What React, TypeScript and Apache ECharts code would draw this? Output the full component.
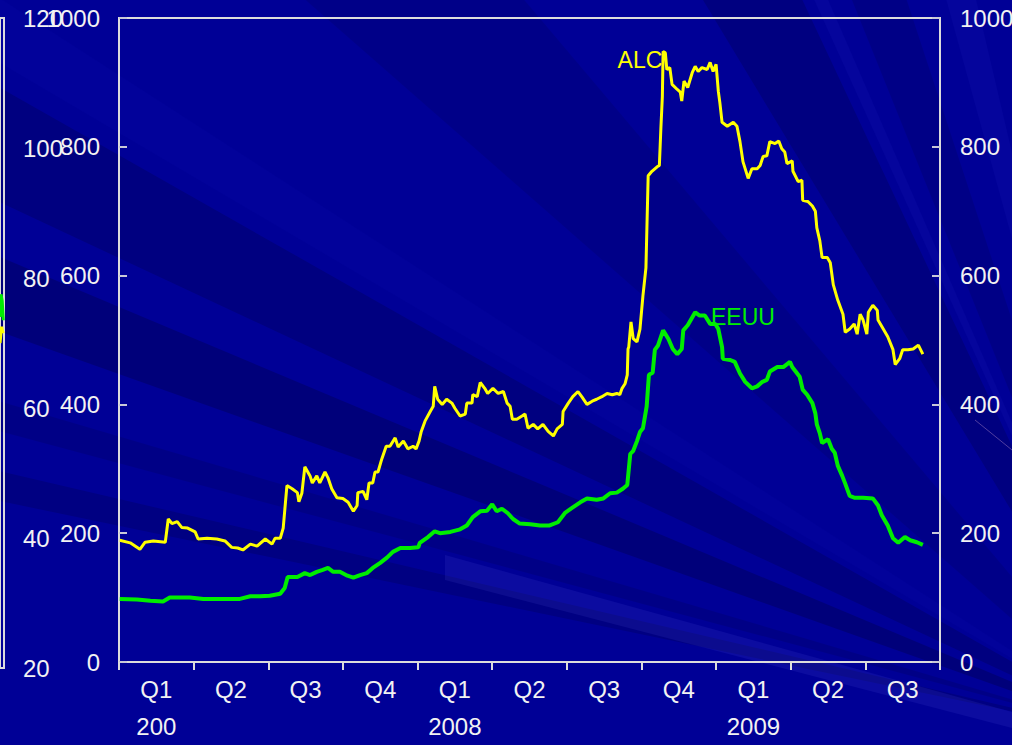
import React, { useEffect, useRef } from "react";
import * as echarts from "echarts";

const quarterLabels = ["Q1", "Q2", "Q3", "Q4", "Q1", "Q2", "Q3", "Q4", "Q1", "Q2", "Q3"];
const yearLabels = ["200", "", "", "", "2008", "", "", "", "2009", "", ""];

// [quarter index from Q1 2007, value]
const alcPoints: number[][] = [
  [0.01, 189], [0.15, 185], [0.28, 175], [0.35, 186], [0.46, 188], [0.62, 186], [0.66, 222], [0.71, 215],
  [0.78, 218], [0.84, 209], [0.92, 208], [1.02, 202], [1.06, 191], [1.18, 192], [1.31, 191], [1.42, 188],
  [1.51, 178], [1.59, 177], [1.66, 174], [1.76, 183], [1.85, 180], [1.96, 191], [2.05, 183], [2.09, 192],
  [2.16, 192], [2.2, 208], [2.25, 274], [2.32, 269], [2.39, 263], [2.41, 249], [2.45, 262], [2.49, 303],
  [2.56, 289], [2.59, 278], [2.65, 289], [2.69, 278], [2.76, 295], [2.8, 286], [2.85, 269], [2.92, 255],
  [3.0, 254], [3.07, 248], [3.14, 234], [3.19, 243], [3.2, 263], [3.27, 265], [3.32, 252], [3.35, 278],
  [3.4, 278], [3.43, 295], [3.47, 295], [3.52, 315], [3.58, 335], [3.63, 335], [3.7, 348], [3.74, 334],
  [3.81, 343], [3.87, 331], [3.94, 335], [3.98, 331], [4.02, 343], [4.05, 358], [4.1, 374], [4.17, 389],
  [4.21, 397], [4.23, 428], [4.27, 408], [4.33, 400], [4.39, 408], [4.46, 402], [4.5, 394], [4.57, 382],
  [4.64, 385], [4.66, 402], [4.73, 402], [4.74, 415], [4.8, 412], [4.84, 434], [4.9, 425], [4.94, 417],
  [5.01, 425], [5.08, 417], [5.15, 420], [5.2, 402], [5.24, 397], [5.27, 377], [5.33, 377], [5.4, 382],
  [5.44, 385], [5.48, 363], [5.55, 369], [5.61, 362], [5.68, 369], [5.75, 358], [5.82, 351], [5.87, 362],
  [5.94, 369], [5.95, 389], [6.02, 402], [6.08, 412], [6.15, 420], [6.2, 412], [6.27, 400], [6.34, 405],
  [6.4, 408], [6.47, 412], [6.54, 417], [6.61, 415], [6.67, 417], [6.71, 415], [6.74, 425], [6.78, 432],
  [6.81, 446], [6.82, 486], [6.83, 489], [6.86, 528], [6.89, 502], [6.94, 497], [6.98, 517], [7.02, 569],
  [7.06, 612], [7.09, 755], [7.14, 762], [7.21, 769], [7.24, 771], [7.26, 828], [7.28, 878], [7.29, 948],
  [7.32, 946], [7.34, 920], [7.38, 923], [7.41, 897], [7.48, 889], [7.52, 885], [7.54, 871], [7.57, 902],
  [7.62, 892], [7.68, 915], [7.72, 925], [7.76, 917], [7.81, 923], [7.88, 920], [7.92, 931], [7.96, 917],
  [8.0, 928], [8.03, 886], [8.05, 869], [8.08, 838], [8.15, 832], [8.23, 838], [8.28, 832], [8.32, 808],
  [8.36, 777], [8.43, 751], [8.48, 766], [8.55, 766], [8.59, 771], [8.63, 785], [8.68, 786], [8.72, 808],
  [8.79, 805], [8.84, 809], [8.88, 797], [8.92, 792], [8.95, 774], [9.02, 778], [9.03, 762], [9.1, 746],
  [9.15, 748], [9.16, 717], [9.23, 715], [9.29, 708], [9.33, 700], [9.35, 674], [9.39, 654], [9.42, 628],
  [9.49, 628], [9.53, 620], [9.57, 586], [9.63, 562], [9.7, 540], [9.73, 512], [9.79, 517], [9.85, 525],
  [9.89, 509], [9.93, 540], [9.97, 531], [10.02, 509], [10.04, 543], [10.1, 554], [10.16, 546], [10.17, 531],
  [10.24, 517], [10.3, 505], [10.37, 485], [10.4, 462], [10.46, 471], [10.5, 485], [10.57, 485], [10.64, 486],
  [10.71, 492], [10.77, 478],
];

const eeuuPoints: number[][] = [
  [0.01, 98], [0.24, 97], [0.42, 95], [0.59, 94], [0.68, 100], [0.82, 100], [0.95, 100], [1.13, 98],
  [1.31, 98], [1.49, 98], [1.62, 98], [1.76, 102], [1.89, 102], [2.02, 103], [2.16, 106], [2.22, 115],
  [2.26, 132], [2.39, 132], [2.49, 138], [2.56, 135], [2.65, 140], [2.73, 143], [2.8, 146], [2.87, 140],
  [2.96, 140], [3.06, 134], [3.14, 131], [3.23, 135], [3.32, 138], [3.4, 146], [3.5, 154], [3.59, 162],
  [3.67, 171], [3.77, 177], [3.9, 177], [4.01, 178], [4.03, 185], [4.14, 194], [4.23, 203], [4.3, 200],
  [4.44, 202], [4.57, 206], [4.66, 212], [4.74, 225], [4.84, 234], [4.93, 235], [5.0, 245], [5.06, 234],
  [5.13, 238], [5.21, 231], [5.28, 222], [5.37, 215], [5.51, 214], [5.64, 212], [5.77, 212], [5.88, 217],
  [5.98, 232], [6.08, 240], [6.18, 248], [6.27, 254], [6.4, 252], [6.49, 254], [6.58, 262], [6.67, 263],
  [6.75, 269], [6.81, 275], [6.85, 323], [6.89, 328], [6.94, 343], [6.98, 357], [7.02, 363], [7.07, 397],
  [7.1, 446], [7.15, 449], [7.18, 485], [7.22, 491], [7.29, 515], [7.36, 502], [7.42, 486], [7.48, 478],
  [7.54, 486], [7.56, 515], [7.62, 523], [7.72, 543], [7.78, 538], [7.85, 538], [7.92, 525], [7.99, 525],
  [8.03, 517], [8.08, 489], [8.09, 471], [8.19, 469], [8.25, 466], [8.32, 448], [8.39, 435], [8.48, 425],
  [8.55, 428], [8.62, 435], [8.68, 438], [8.72, 451], [8.82, 458], [8.9, 458], [8.99, 466], [9.02, 458],
  [9.12, 443], [9.16, 423], [9.22, 415], [9.29, 402], [9.33, 386], [9.35, 369], [9.39, 355], [9.42, 340],
  [9.5, 346], [9.55, 331], [9.59, 325], [9.63, 305], [9.69, 289], [9.73, 277], [9.79, 258], [9.86, 255],
  [9.97, 255], [10.1, 254], [10.17, 243], [10.22, 228], [10.3, 212], [10.37, 192], [10.44, 185], [10.53, 194],
  [10.6, 189], [10.69, 186], [10.77, 182],
];

// tail of the neighbouring (cut-off) chart at the far left, on its 20-120 scale
const prevEeuuPoints: number[][] = [[0, 74], [1, 77.5], [2.2, 76.5], [3.3, 73.5]];
const prevAlcPoints: number[][] = [[0, 70], [1.6, 72.5], [3.2, 71.5]];

const alcLabel = { name: "ALC", coord: [6.98, 935] };
const eeuuLabel = { name: "EEUU", coord: [8.36, 535] };

const FONT = "'Liberation Sans', Arial, sans-serif";
const TXT = "#f2f2f2";
const AXIS = "#dcdcdc";

function rays() {
  const F = [1150, 740];
  const els: any[] = [];
  const leftBand = (y0: number, y1: number, fill: string) =>
    els.push({ type: "polygon", z: -9, silent: true, shape: { points: [F, [-5, y0], [-5, y1]] }, style: { fill } });
  const topBand = (x0: number, x1: number, fill: string) =>
    els.push({ type: "polygon", z: -9, silent: true, shape: { points: [F, [x0, -5], [x1, -5]] }, style: { fill } });
  leftBand(85, 200, "rgba(0,0,40,0.2)");
  leftBand(255, 330, "rgba(0,0,40,0.25)");
  leftBand(400, 430, "rgba(0,0,40,0.14)");
  leftBand(470, 500, "rgba(0,0,40,0.18)");
  leftBand(-5, 60, "rgba(40,40,220,0.06)");
  topBand(300, 520, "rgba(0,0,40,0.12)");
  topBand(700, 800, "rgba(0,0,40,0.2)");
  topBand(850, 905, "rgba(0,0,40,0.14)");
  topBand(812, 826, "rgba(60,60,230,0.08)");
  topBand(945, 975, "rgba(60,60,230,0.08)");
  els.push({
    type: "polygon", z: -9, silent: true,
    shape: { points: [[445, 555], [1012, 712], [1012, 728], [445, 580]] },
    style: { fill: "rgba(120,120,255,0.1)" },
  });
  els.push({
    type: "line", z: -9, silent: true,
    shape: { x1: 975, y1: 420, x2: 1012, y2: 450 },
    style: { stroke: "rgba(180,140,200,0.45)", lineWidth: 1 },
  });
  // page beyond the slide's right edge
  els.push({ type: "rect", z: -8, silent: true, shape: { x: 1012, y: 0, width: 20, height: 745 }, style: { fill: "#ffffff" } });
  return els;
}

export default function App() {
  const ref = useRef<HTMLDivElement>(null);
  useEffect(() => {
    if (!ref.current) return;
    const chart = echarts.init(ref.current, null, { renderer: "svg" });
    const labelStyle = { color: TXT, fontSize: 24, fontFamily: FONT };
    const plain = (v: number) => String(v);
    chart.setOption({
      animation: false,
      backgroundColor: "#ffffff",
      graphic: [
        { type: "rect", z: -10, silent: true, shape: { x: 0, y: 0, width: 1012, height: 745 }, style: { fill: "#000096" } },
        ...rays(),
      ],
      grid: [
        { left: 119, right: 86, top: 18, bottom: 77, show: true, borderColor: AXIS, borderWidth: 2, backgroundColor: "transparent" },
        { left: 0, right: 1022, top: 18, bottom: 77, show: true, borderColor: AXIS, borderWidth: 2, backgroundColor: "transparent" },
      ],
      xAxis: [
        {
          type: "category",
          gridIndex: 0,
          data: quarterLabels.map((q, i) => (yearLabels[i] ? q + "\n" + yearLabels[i] : q)),
          boundaryGap: true,
          axisLine: { lineStyle: { color: AXIS, width: 2 } },
          axisTick: { show: true, interval: 0, length: 8, lineStyle: { color: AXIS, width: 2 } },
          axisLabel: { ...labelStyle, interval: 0, margin: 9, lineHeight: 37 },
          splitLine: { show: false },
        },
        { type: "value", gridIndex: 0, min: 0, max: 11, show: false },
        { type: "value", gridIndex: 1, min: 0, max: 4, show: false },
      ],
      yAxis: [
        {
          type: "value", gridIndex: 0, position: "left", min: 0, max: 1000, interval: 200,
          axisLine: { show: true, lineStyle: { color: AXIS, width: 2 } },
          axisTick: { show: true, inside: true, length: 8, lineStyle: { color: "#c8c8d8", width: 2 } },
          axisLabel: { ...labelStyle, margin: 19, formatter: plain },
          splitLine: { show: false },
        },
        {
          type: "value", gridIndex: 0, position: "right", min: 0, max: 1000, interval: 200,
          axisLine: { show: true, lineStyle: { color: AXIS, width: 2 } },
          axisTick: { show: true, inside: true, length: 8, lineStyle: { color: "#c8c8d8", width: 2 } },
          axisLabel: { ...labelStyle, margin: 20, formatter: plain },
          splitLine: { show: false },
        },
        {
          type: "value", gridIndex: 1, position: "right", min: 20, max: 120, interval: 20,
          axisLine: { show: true, lineStyle: { color: AXIS, width: 2 } },
          axisTick: { show: true, inside: true, length: 8, lineStyle: { color: "#c8c8d8", width: 2 } },
          axisLabel: { ...labelStyle, margin: 19, formatter: plain },
          splitLine: { show: false },
        },
      ],
      series: [
        {
          name: "EEUU", type: "line", xAxisIndex: 1, yAxisIndex: 0, data: eeuuPoints, showSymbol: false,
          lineStyle: { color: "#00ee00", width: 4 }, itemStyle: { color: "#00ee00" }, z: 3,
          markPoint: {
            symbol: "circle", symbolSize: 1, itemStyle: { color: "transparent" },
            label: { show: true, position: "inside", formatter: eeuuLabel.name, color: "#00ee00", fontSize: 23, fontFamily: FONT },
            data: [{ name: eeuuLabel.name, coord: eeuuLabel.coord }],
          },
        },
        {
          name: "ALC", type: "line", xAxisIndex: 1, yAxisIndex: 0, data: alcPoints, showSymbol: false,
          lineStyle: { color: "#ffff00", width: 3 }, itemStyle: { color: "#ffff00" }, z: 4,
          markPoint: {
            symbol: "circle", symbolSize: 1, itemStyle: { color: "transparent" },
            label: { show: true, position: "inside", formatter: alcLabel.name, color: "#ffff00", fontSize: 23, fontFamily: FONT },
            data: [{ name: alcLabel.name, coord: alcLabel.coord }],
          },
        },
        {
          name: "prevEEUU", type: "line", xAxisIndex: 2, yAxisIndex: 2, data: prevEeuuPoints, showSymbol: false,
          lineStyle: { color: "#00ee00", width: 3 },
        },
        {
          name: "prevALC", type: "line", xAxisIndex: 2, yAxisIndex: 2, data: prevAlcPoints, showSymbol: false,
          lineStyle: { color: "#ffff00", width: 3 },
        },
      ],
    });
    return () => chart.dispose();
  }, []);
  return (
    <div
      ref={ref}
      style={{ position: "fixed", left: 0, top: 0, width: 1026, height: 745 }}
    />
  );
}
